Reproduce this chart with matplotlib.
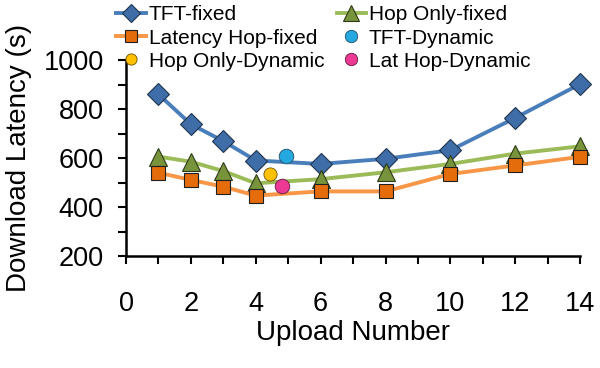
import matplotlib
matplotlib.use("Agg")
import matplotlib.pyplot as plt
from matplotlib.ticker import MultipleLocator

plt.rcParams['font.family'] = ['Liberation Sans', 'DejaVu Sans']

uploads = [1, 2, 3, 4, 6, 8, 10, 12, 14]
tft_fixed = [860, 738, 669, 590, 576, 597, 632, 764, 902]
hop_only_fixed = [606, 585, 547, 497, 514, 542, 576, 618, 648]
latency_hop_fixed = [540, 511, 483, 447, 464, 464, 535, 570, 605]

tft_dyn = (4.94, 610)
hop_only_dyn = (4.44, 533)
lat_hop_dyn = (4.82, 485)

fig = plt.figure(figsize=(6.0, 3.68), dpi=100)
ax = fig.add_axes([0.21, 0.304, 0.757, 0.533])

h1, = ax.plot(uploads, tft_fixed, color='#4A7EBB', lw=2.8, marker='D', ms=11,
              mfc='#3F6DA8', mec='#1F3550', mew=0.8, label='TFT-fixed', clip_on=False)
h2, = ax.plot(uploads, hop_only_fixed, color='#9BBB59', lw=2.8, marker='^', ms=13,
              mfc='#77933C', mec='#2E3A17', mew=0.8, label='Hop Only-fixed', clip_on=False)
h3, = ax.plot(uploads, latency_hop_fixed, color='#F79646', lw=2.8, marker='s', ms=10.5,
              mfc='#E46C0A', mec='#202020', mew=0.8, label='Latency Hop-fixed', clip_on=False)
h4, = ax.plot([tft_dyn[0]], [tft_dyn[1]], ls='none', marker='o', ms=10.5,
              mfc='#25A8E0', mec='#1F4F66', mew=0.6, label='TFT-Dynamic')
h5, = ax.plot([hop_only_dyn[0]], [hop_only_dyn[1]], ls='none', marker='o', ms=9.5,
              mfc='#FFC000', mec='#6B5200', mew=0.6, label='Hop Only-Dynamic')
h6, = ax.plot([lat_hop_dyn[0]], [lat_hop_dyn[1]], ls='none', marker='o', ms=10.5,
              mfc='#EC3A94', mec='#5E1A3C', mew=0.6, label='Lat Hop-Dynamic')

ax.set_xlim(0, 14)
ax.set_ylim(200, 1000)
ax.xaxis.set_major_locator(MultipleLocator(2))
ax.xaxis.set_minor_locator(MultipleLocator(1))
ax.yaxis.set_major_locator(MultipleLocator(200))
ax.yaxis.set_minor_locator(MultipleLocator(100))
ax.tick_params(which='both', direction='out', length=6, width=1.5, labelsize=19.5)
ax.tick_params(axis='x', pad=19)
ax.tick_params(axis='y', pad=10)

for s in ['top', 'right']:
    ax.spines[s].set_visible(False)
for s in ['left', 'bottom']:
    ax.spines[s].set_linewidth(1.8)

ax.set_xlabel('Upload Number', fontsize=20, labelpad=2)
ax.set_ylabel('Download Latency (s)', fontsize=20, labelpad=8)

fig.legend(handles=[h1, h3, h5, h2, h4, h6], ncol=2, frameon=False,
           fontsize=15, loc='upper left', bbox_to_anchor=(0.18, 1.008),
           handlelength=1.4, handletextpad=0.15, columnspacing=0.6,
           labelspacing=0.2, markerscale=0.85, borderaxespad=0)

fig.savefig('out.png', dpi=100)
